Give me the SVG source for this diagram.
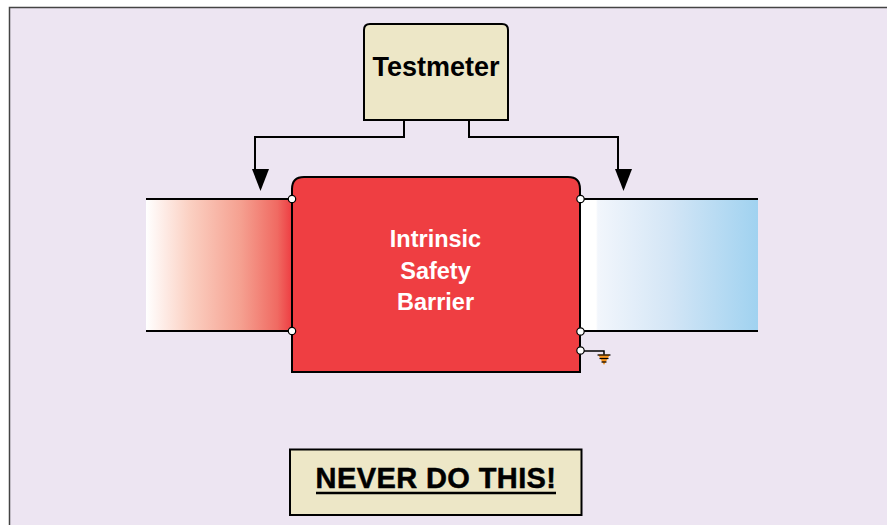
<svg xmlns="http://www.w3.org/2000/svg" width="887" height="525" viewBox="0 0 887 525">
  <defs>
    <style>
      .ln { fill: none; stroke: #000; stroke-width: 2; }
      .pin { fill: #fff; stroke: #000; stroke-width: 1.2; }
      .lbl { font-family: "Liberation Sans", Arial, sans-serif; font-weight: bold; text-anchor: middle; }
      .box { fill: #EDE7C7; stroke: #000; stroke-width: 2; }
    </style>
    <linearGradient id="redGrad" x1="0" y1="0" x2="1" y2="0">
      <stop offset="0" stop-color="#FFFFFF"/>
      <stop offset="0.3" stop-color="#FBD0C2"/>
      <stop offset="0.65" stop-color="#F5A090"/>
      <stop offset="0.9" stop-color="#F06A62"/>
      <stop offset="1" stop-color="#EE3D42"/>
    </linearGradient>
    <linearGradient id="blueGrad" x1="0" y1="0" x2="1" y2="0">
      <stop offset="0" stop-color="#FFFFFF"/>
      <stop offset="0.09" stop-color="#FFFFFF"/>
      <stop offset="0.1" stop-color="#F2F6FC"/>
      <stop offset="0.5" stop-color="#D4E6F6"/>
      <stop offset="1" stop-color="#A0D2F0"/>
    </linearGradient>
  </defs>

  <rect x="0" y="0" width="887" height="525" fill="#FFFFFF"/>
  <rect x="9.5" y="7.5" width="890" height="530" fill="#EDE5F2" stroke="#444" stroke-width="1.5"/>

  <g id="connectors">
    <polyline class="ln" points="404,120 404,137 255,137 255,172"/>
    <polygon points="252,169 269,169 260.5,191" fill="#000"/>
    <polyline class="ln" points="469,120 469,137 618,137 618,172"/>
    <polygon points="615,169 632,169 623.5,191" fill="#000"/>
    <polyline class="ln" points="581,351 604,351 604,355" style="stroke-width:1.5"/>
  </g>

  <g id="hazardous-side">
    <rect x="146" y="199" width="146" height="132" fill="url(#redGrad)"/>
    <line class="ln" x1="146" y1="199" x2="292" y2="199"/>
    <line class="ln" x1="146" y1="331" x2="292" y2="331"/>
  </g>

  <g id="safe-side">
    <rect x="580" y="199" width="178" height="132" fill="url(#blueGrad)"/>
    <line class="ln" x1="580" y1="199" x2="758" y2="199"/>
    <line class="ln" x1="580" y1="331" x2="758" y2="331"/>
  </g>

  <g id="testmeter">
    <path class="box" d="M364,120 L364,30 Q364,24 370,24 L502,24 Q508,24 508,30 L508,120 Z"/>
    <text class="lbl" x="436" y="76" font-size="27" fill="#000">Testmeter</text>
  </g>

  <g id="barrier">
    <path d="M292,372 L292,189 Q292,177 304,177 L568,177 Q580,177 580,189 L580,372 Z" fill="#EF3E42" stroke="#000" stroke-width="2"/>
    <text class="lbl" x="435.5" y="247" font-size="23.5" fill="#FFFFFF">Intrinsic</text>
    <text class="lbl" x="435.5" y="279" font-size="23.5" fill="#FFFFFF">Safety</text>
    <text class="lbl" x="435.5" y="310" font-size="23.5" fill="#FFFFFF">Barrier</text>
    <circle class="pin" cx="292" cy="199" r="3.7"/>
    <circle class="pin" cx="292" cy="331" r="3.7"/>
    <circle class="pin" cx="580.5" cy="199" r="3.7"/>
    <circle class="pin" cx="580.5" cy="331.5" r="3.7"/>
    <circle class="pin" cx="580.5" cy="350.5" r="3.7"/>
  </g>

  <g id="ground">
    <polygon points="598,354.5 610,354.5 604,365" fill="#F7941D"/>
    <line x1="597.5" y1="355" x2="610.5" y2="355" stroke="#000" stroke-width="1.2"/>
    <line x1="599.5" y1="358.5" x2="608.5" y2="358.5" stroke="#000" stroke-width="1.2"/>
    <line x1="601.5" y1="362" x2="606.5" y2="362" stroke="#000" stroke-width="1.2"/>
  </g>

  <g id="warning">
    <rect class="box" x="290" y="449.5" width="291.5" height="65.5"/>
    <text class="lbl" x="436" y="488" font-size="29" fill="#000" stroke="#000" stroke-width="0.5" letter-spacing="0.4">NEVER DO THIS!</text>
    <line x1="316" y1="493" x2="556" y2="493" stroke="#000" stroke-width="2.5"/>
  </g>
</svg>
